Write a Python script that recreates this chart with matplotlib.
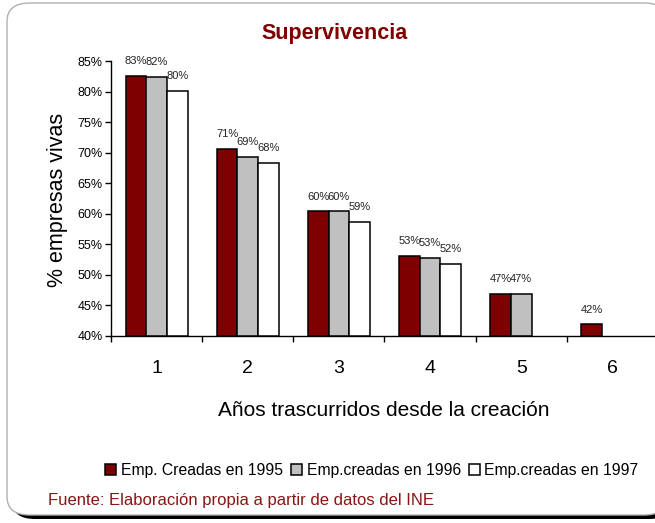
import matplotlib
matplotlib.use("Agg")
import matplotlib.pyplot as plt
import numpy as np
from matplotlib.patches import FancyBboxPatch

plt.rcParams['font.family'] = ["Liberation Sans", 'DejaVu Sans']

categories = ["1", "2", "3", "4", "5", "6"]
s1995 = [82.6, 70.6, 60.4, 53.1, 46.9, 41.9]
s1996 = [82.4, 69.3, 60.4, 52.8, 46.9, None]
s1997 = [80.1, 68.3, 58.7, 51.8, None, None]
series_names = ["Emp. Creadas en 1995", "Emp.creadas en 1996", "Emp.creadas en 1997"]
colors = ["#7f0000", "#c0c0c0", "#ffffff"]
yticks = [40, 45, 50, 55, 60, 65, 70, 75, 80, 85]

fig = plt.figure(figsize=(6.55, 5.23), dpi=100)
W, H = 655, 523

# frame with shadow
shadow = FancyBboxPatch((12 / W, 1 - 519 / H), 660 / W, (519 - 8) / H,
                        boxstyle="round,pad=0,rounding_size=0.035",
                        transform=fig.transFigure, facecolor="black",
                        edgecolor="none", zorder=0)
fig.patches.append(shadow)
frame = FancyBboxPatch((7 / W, 1 - 515 / H), 660 / W, (515 - 3) / H,
                       boxstyle="round,pad=0,rounding_size=0.035",
                       transform=fig.transFigure, facecolor="white",
                       edgecolor="#b0b0b0", linewidth=1.0, zorder=1)
fig.patches.append(frame)

x0, x1 = 111, 658
ytop, ybot = 61, 336
ax = fig.add_axes([x0 / W, 1 - ybot / H, (x1 - x0) / W, (ybot - ytop) / H])
ax.set_zorder(2)
ax.patch.set_alpha(0)

x = np.arange(len(categories))
bw = 0.227
offsets = [-bw, 0, bw]
for vals, col, off, name in zip([s1995, s1996, s1997], colors, offsets, series_names):
    xs = [xi + off for xi, v in zip(x, vals) if v is not None]
    vs = [v for v in vals if v is not None]
    ax.bar(xs, [v - 40 for v in vs], bottom=40, width=bw, color=col,
           edgecolor="black", linewidth=1.1, label=name, zorder=3)
    for xi, v in zip(xs, vs):
        ax.text(xi, v + 1.6, f"{round(v):d}%", ha="center", va="bottom",
                fontsize=8, color="#222222", zorder=4)

ax.set_xlim(-0.5, len(categories) - 0.5)
ax.set_ylim(40, 85)
ax.set_yticks(yticks)
ax.set_yticklabels([f"{t}%" for t in yticks], fontsize=9)
ax.set_xticks(x)
ax.set_xticklabels(categories, fontsize=14)
ax.set_xticks(np.arange(len(categories) + 1) - 0.5, minor=True)
ax.tick_params(axis="x", which="major", length=0, pad=17)
ax.tick_params(axis="x", which="minor", length=4, width=1, direction="out")
ax.tick_params(axis="y", length=4, width=1, direction="out", pad=2)
for s in ["top", "right"]:
    ax.spines[s].set_visible(False)
ax.spines["left"].set_linewidth(1)
ax.spines["bottom"].set_linewidth(1)

fig.text(58 / W, 1 - 200 / H, "% empresas vivas", rotation=90, ha="center",
         va="center", fontsize=15.5)
fig.text(384 / W, 1 - 410 / H, "Años trascurridos desde la creación",
         ha="center", va="center", fontsize=15)
fig.text(335 / W, 1 - 34 / H, "Supervivencia", ha="center", va="center",
         fontsize=15.5, fontweight="bold", color="#800000")

handles, labels = ax.get_legend_handles_labels()
leg = fig.legend(handles, labels, loc="center", bbox_to_anchor=(372 / W, 1 - 470 / H),
                 ncol=3, frameon=False, fontsize=11.3, handlelength=0.7,
                 handleheight=0.7, handletextpad=0.3, columnspacing=0.5,
                 borderpad=0.1)
leg.set_zorder(5)

fig.text(48 / W, 1 - 500 / H, "Fuente: Elaboración propia a partir de datos del INE",
         ha="left", va="center", fontsize=12, color="#8b1414")

fig.savefig("out.png", dpi=100)
